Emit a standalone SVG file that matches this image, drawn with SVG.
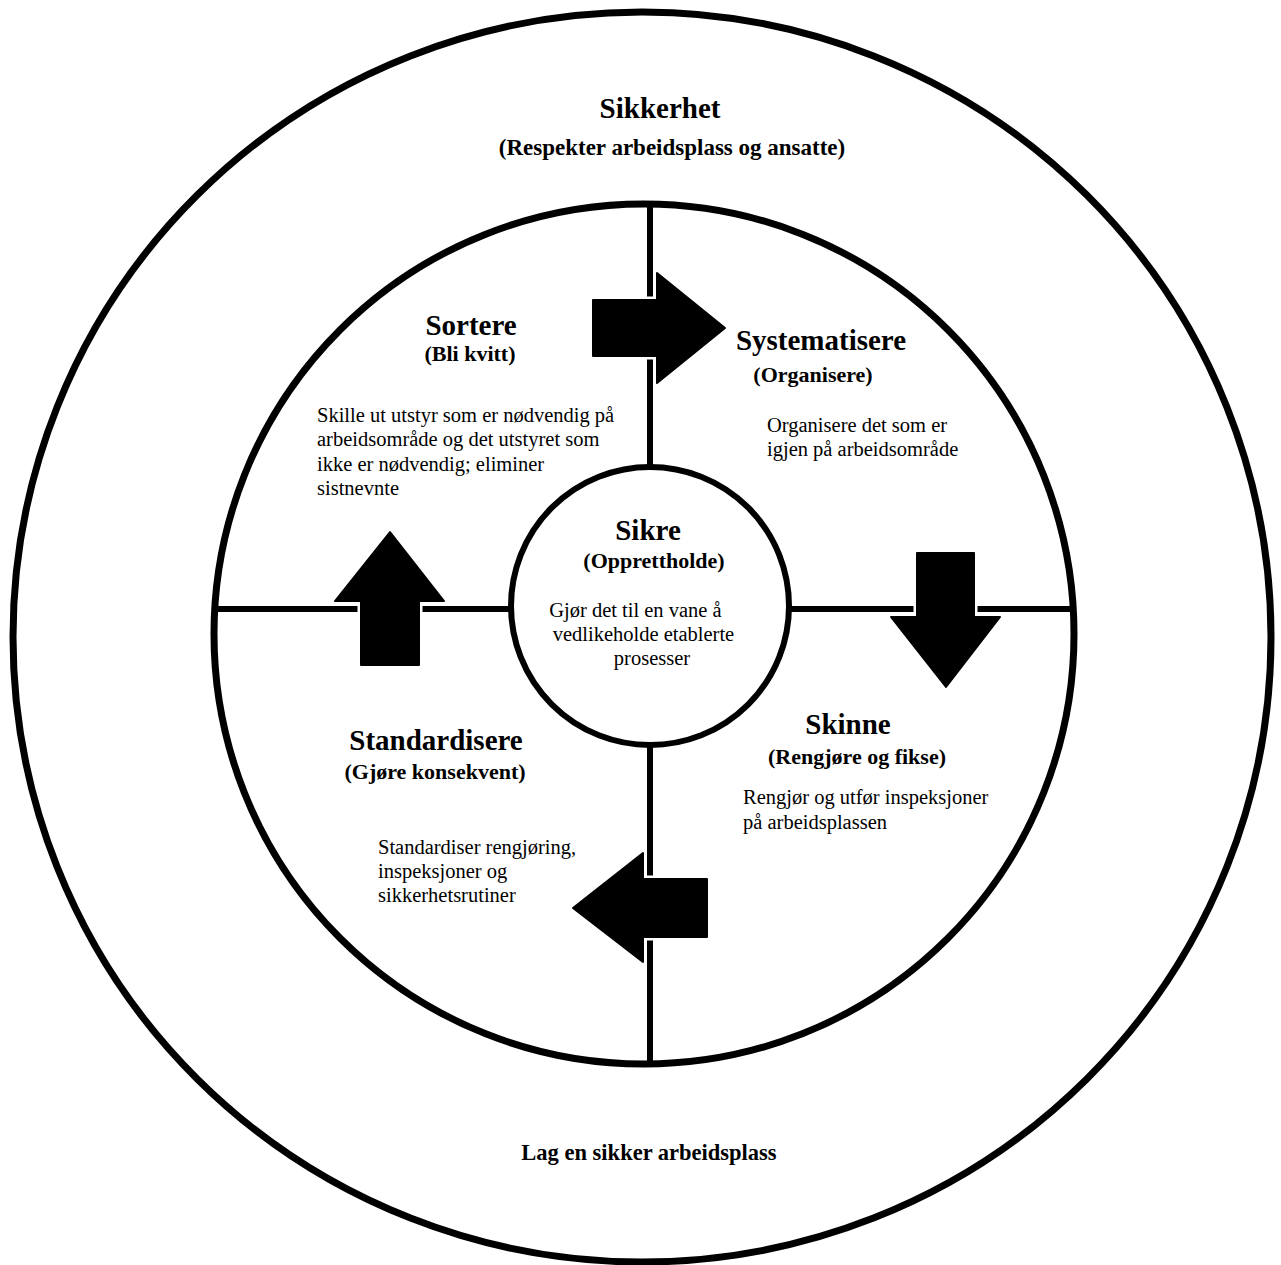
<svg xmlns="http://www.w3.org/2000/svg" width="1281" height="1265" viewBox="0 0 1281 1265">
  <style>
    .ring { fill: none; stroke: #000; stroke-width: 7; }
    .hub { fill: #fff; stroke: #000; stroke-width: 6; }
    .divider { stroke: #000; stroke-width: 6; }
    .halo { fill: #fff; stroke: #fff; stroke-width: 7; stroke-linejoin: round; }
    .arrow { fill: #000; stroke: #000; stroke-width: 2; stroke-linejoin: round; }
    text { font-family: "Liberation Serif", "Times New Roman", serif; fill: #000; }
    .title { font-size: 29px; font-weight: bold; text-anchor: middle; }
    .sub { font-size: 22px; font-weight: bold; text-anchor: middle; }
    .body { font-size: 20.5px; }
    .footer { font-size: 22.5px; font-weight: bold; text-anchor: middle; }
  </style>

  <rect width="1281" height="1265" fill="#fff"/>

  <!-- outer safety ring -->
  <g id="ring-safety">
    <ellipse class="ring" cx="642" cy="637" rx="629" ry="625"/>
    <text class="title" x="660" y="118">Sikkerhet</text>
    <text class="sub" x="672" y="155" style="font-size:23px">(Respekter arbeidsplass og ansatte)</text>
    <text class="footer" x="649" y="1160">Lag en sikker arbeidsplass</text>
  </g>

  <!-- middle ring split into four quadrants -->
  <g id="ring-5s">
    <circle class="ring" cx="644" cy="634" r="430"/>
  </g>

  <g id="dividers">
    <line class="divider" x1="650" y1="204" x2="650" y2="1064"/>
    <line class="divider" x1="214" y1="609" x2="1074" y2="609"/>
  </g>

  <!-- centre: Sikre -->
  <g id="node-sikre">
    <circle class="hub" cx="650" cy="606" r="139"/>
    <text class="title" x="648" y="540">Sikre</text>
    <text class="sub" x="654" y="568">(Opprettholde)</text>
    <text class="body" text-anchor="middle">
      <tspan x="638" y="617">Gjør det til en vane å</tspan>
      <tspan x="646" y="641">vedlikeholde etablerte</tspan>
      <tspan x="652" y="665">prosesser</tspan>
    </text>
  </g>

  <!-- quadrant: Sortere -->
  <g id="node-sortere">
    <text class="title" x="471" y="335">Sortere</text>
    <text class="sub" x="470" y="361">(Bli kvitt)</text>
    <text class="body">
      <tspan x="317" y="422">Skille ut utstyr som er nødvendig på</tspan>
      <tspan x="317" y="446">arbeidsområde og det utstyret som</tspan>
      <tspan x="317" y="471">ikke er nødvendig; eliminer</tspan>
      <tspan x="317" y="495">sistnevnte</tspan>
    </text>
  </g>

  <!-- quadrant: Systematisere -->
  <g id="node-systematisere">
    <text class="title" x="821" y="350">Systematisere</text>
    <text class="sub" x="813" y="382">(Organisere)</text>
    <text class="body">
      <tspan x="767" y="432">Organisere det som er</tspan>
      <tspan x="767" y="456">igjen på arbeidsområde</tspan>
    </text>
  </g>

  <!-- quadrant: Skinne -->
  <g id="node-skinne">
    <text class="title" x="848" y="734">Skinne</text>
    <text class="sub" x="857" y="764">(Rengjøre og fikse)</text>
    <text class="body">
      <tspan x="743" y="804">Rengjør og utfør inspeksjoner</tspan>
      <tspan x="743" y="829">på arbeidsplassen</tspan>
    </text>
  </g>

  <!-- quadrant: Standardisere -->
  <g id="node-standardisere">
    <text class="title" x="436" y="750">Standardisere</text>
    <text class="sub" x="435" y="779">(Gjøre konsekvent)</text>
    <text class="body">
      <tspan x="378" y="854">Standardiser rengjøring,</tspan>
      <tspan x="378" y="878">inspeksjoner og</tspan>
      <tspan x="378" y="902">sikkerhetsrutiner</tspan>
    </text>
  </g>

  <!-- cycle arrows between the quadrants -->
  <g id="connectors">
    <defs>
      <path id="arr-right" d="M593,300 H657 V273 L725,328 L657,383 V356 H593 Z"/>
      <path id="arr-down" d="M917,553 H974 V617 H1000 L946,687 L891,617 H917 Z"/>
      <path id="arr-left" d="M707,879 H643 V853 L573,908 L643,962 V937 H707 Z"/>
      <path id="arr-up" d="M361,665 H419 V601 H444 L390,532 L335,601 H361 Z"/>
    </defs>
    <use href="#arr-right" class="halo"/>
    <use href="#arr-right" class="arrow"/>
    <use href="#arr-down" class="halo"/>
    <use href="#arr-down" class="arrow"/>
    <use href="#arr-left" class="halo"/>
    <use href="#arr-left" class="arrow"/>
    <use href="#arr-up" class="halo"/>
    <use href="#arr-up" class="arrow"/>
  </g>
</svg>
